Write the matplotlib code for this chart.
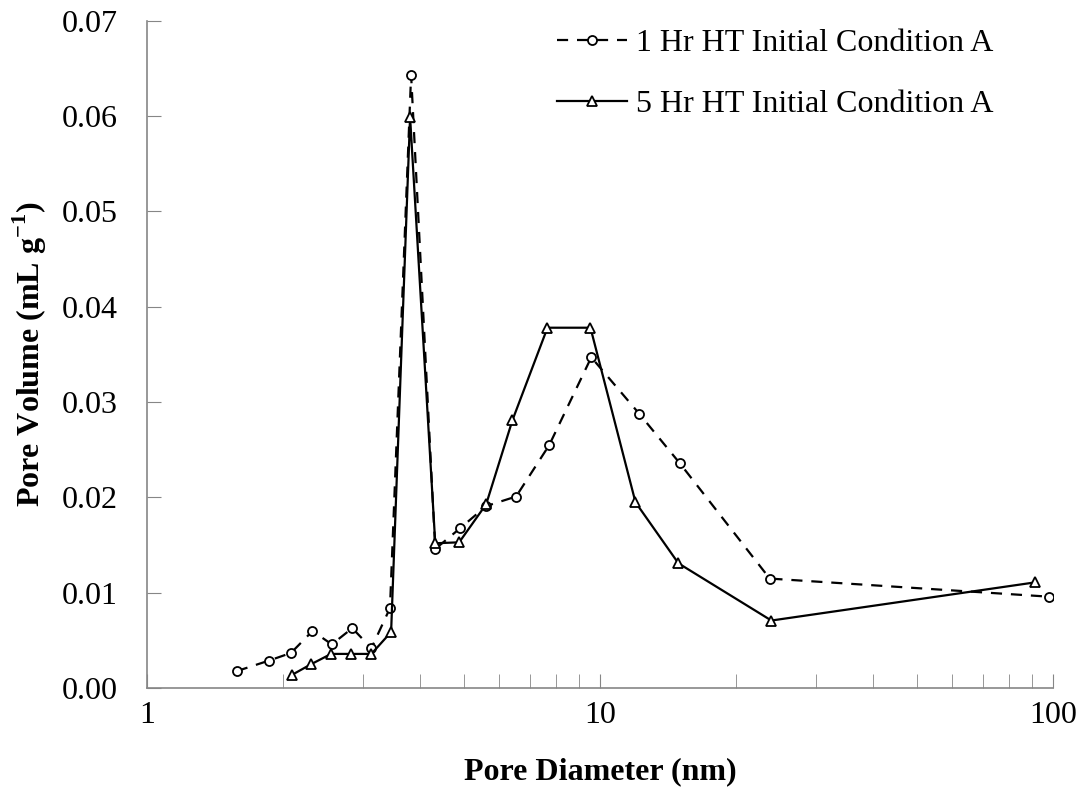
import numpy as np
import matplotlib
matplotlib.use("Agg")
from matplotlib import pyplot as plt
from matplotlib.ticker import FormatStrFormatter, FixedLocator, NullFormatter

plt.rcParams["font.family"] = ["Liberation Serif", "DejaVu Serif"]
plt.rcParams["mathtext.fontset"] = "custom"
plt.rcParams["mathtext.rm"] = "Liberation Serif"
plt.rcParams["mathtext.bf"] = "Liberation Serif:bold"

# 1 Hr HT Initial Condition A
d_1hr = [1.58, 1.86, 2.08, 2.32, 2.56, 2.84, 3.13, 3.44, 3.83, 4.33, 4.92,
         5.61, 6.53, 7.73, 9.57, 12.2, 15.0, 23.7, 98.0]
v_1hr = [0.0018, 0.0029, 0.0037, 0.0060, 0.0046, 0.0063, 0.0042, 0.0084,
         0.0643, 0.0146, 0.0168, 0.0191, 0.0201, 0.0255, 0.0347, 0.0288,
         0.0236, 0.0115, 0.0096]

# 5 Hr HT Initial Condition A
d_5hr = [2.09, 2.30, 2.55, 2.82, 3.13, 3.46, 3.81, 4.33, 4.89, 5.61, 6.41,
         7.66, 9.53, 11.98, 14.9, 23.9, 91.3]
v_5hr = [0.0014, 0.0025, 0.0036, 0.0036, 0.0036, 0.0059, 0.0599, 0.0152,
         0.0153, 0.0193, 0.0281, 0.0378, 0.0378, 0.0195, 0.0131, 0.0071,
         0.0111]

labels = ["1 Hr HT Initial Condition A", "5 Hr HT Initial Condition A"]

fig = plt.figure(figsize=(10.8, 7.92), dpi=100)
ax = fig.add_axes([0.136, 0.131, 0.839, 0.843])

ax.plot(d_1hr, v_1hr, "k--", marker="o", markersize=6.5, markerfacecolor="white",
        markeredgewidth=1.3, linewidth=1.6, dashes=(5, 4), label=labels[0])
ax.plot(d_5hr, v_5hr, "k-", marker="^", markersize=6.5, markerfacecolor="white",
        markeredgewidth=1.3, linewidth=1.6, label=labels[1])

ax.set_xscale("log")
ax.set_xlim(1, 100)
ax.set_ylim(0, 0.07)
ax.xaxis.set_major_locator(FixedLocator([1, 10, 100]))
ax.set_xticklabels(["1", "10", "100"])
ax.xaxis.set_minor_formatter(NullFormatter())
ax.yaxis.set_major_locator(FixedLocator(np.arange(0, 0.0701, 0.01)))
ax.yaxis.set_major_formatter(FormatStrFormatter("%.2f"))

for s in ["top", "right"]:
    ax.spines[s].set_visible(False)
for s in ["left", "bottom"]:
    ax.spines[s].set_color("#868686")
    ax.spines[s].set_linewidth(1.2)

ax.tick_params(axis="both", which="both", direction="in", colors="#868686",
               labelcolor="black", labelsize=23)
ax.tick_params(axis="y", length=10, pad=21)
ax.tick_params(axis="x", which="major", length=10, pad=9)
ax.tick_params(axis="x", which="minor", length=10)

ax.set_xlabel("Pore Diameter (nm)", fontsize=23, fontweight="bold", labelpad=20)
ax.set_ylabel(r"Pore Volume (mL g$^{\mathbf{-1}}$)", fontsize=23,
              fontweight="bold", labelpad=9)

ax.legend(loc="upper left", frameon=False, fontsize=23, handlelength=2.2,
          labelspacing=0.98, handletextpad=0.28, borderpad=0, borderaxespad=0,
          bbox_to_anchor=(557 / 1080, 1 - 29 / 792),
          bbox_transform=fig.transFigure)

fig.savefig("out.png", dpi=100)
